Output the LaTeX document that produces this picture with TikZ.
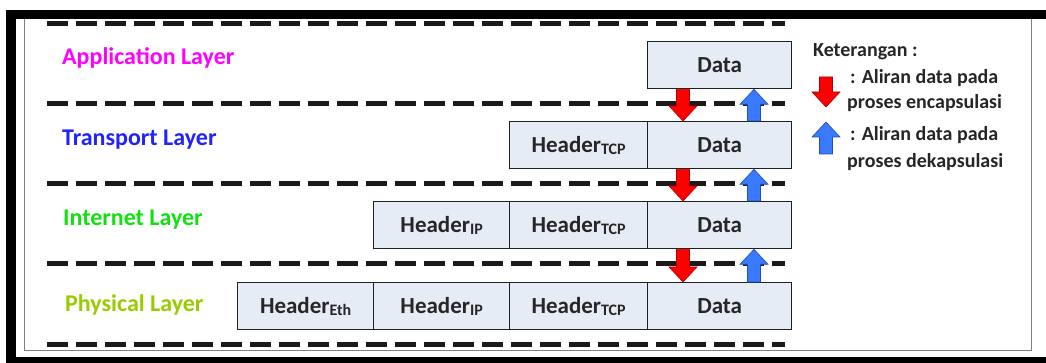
\documentclass[tikz,border=0pt]{standalone}
\usepackage{fontspec}
\setmainfont{Carlito}
\usetikzlibrary{calc}

\definecolor{cellfill}{HTML}{E6ECF6}
\definecolor{cellline}{HTML}{202020}
\definecolor{celltext}{HTML}{262626}
\definecolor{appcol}{HTML}{FF00FF}
\definecolor{trancol}{HTML}{2222FF}
\definecolor{netcol}{HTML}{11E011}
\definecolor{phycol}{HTML}{99CC00}
\definecolor{encfill}{HTML}{FF0000}
\definecolor{encline}{HTML}{B00000}
\definecolor{decfill}{HTML}{3A7AFF}
\definecolor{decline}{HTML}{1E4DB5}
\definecolor{sepcol}{HTML}{1A1A1A}

% block arrow pointing down from #2 to #3
\newcommand\blockdown[3]{%
  \draw[#1] let \p1=(#2), \p2=(#3) in
    (\x1-6.5pt,\y1) -- (\x1+6.5pt,\y1) -- (\x1+6.5pt,\y2+15pt) --
    (\x1+14pt,\y2+15pt) -- (\x1,\y2) -- (\x1-14pt,\y2+15pt) --
    (\x1-6.5pt,\y2+15pt) -- cycle;}
% block arrow pointing up from #2 to #3
\newcommand\blockup[3]{%
  \draw[#1] let \p1=(#2), \p2=(#3) in
    (\x1-6.5pt,\y1) -- (\x1+6.5pt,\y1) -- (\x1+6.5pt,\y2-15pt) --
    (\x1+14pt,\y2-15pt) -- (\x1,\y2) -- (\x1-14pt,\y2-15pt) --
    (\x1-6.5pt,\y2-15pt) -- cycle;}
\newcommand\hsub[1]{\raisebox{-2pt}{\fontsize{16}{17}\selectfont #1}}

\begin{document}
\begin{tikzpicture}[x=1pt,y=-1pt,
  cell/.style={draw=cellline, fill=cellfill, line width=1.3pt,
    minimum height=47pt, inner sep=0pt, anchor=north west,
    font=\fontsize{23}{25}\selectfont\bfseries, text=celltext},
  layername/.style={anchor=base west, inner sep=0pt,
    font=\fontsize{24}{26}\selectfont\bfseries},
  legendtext/.style={anchor=base west, inner sep=0pt,
    font=\fontsize{20}{22}\selectfont\bfseries, text=celltext},
  separator/.style={draw=sepcol, line width=5pt, dash pattern=on 21pt off 8pt},
  enc/.style={fill=encfill, draw=encline, line width=0.6pt},
  dec/.style={fill=decfill, draw=decline, line width=0.6pt}]
\useasboundingbox (0,0) rectangle (1046,363);

% frame
\fill[black] (6,10) rectangle (1046,363);
\fill[white] (16,19) rectangle (1046,357);
\draw[gray, line width=1pt] (24,19) -- (24,350) -- (1031,350) -- (1031,19);

% layer separators
\foreach \yy in {24,104,184,264,344}
  \draw[separator] (47,\yy) -- (785,\yy);

% layer names
\node[layername, text=appcol]  (lapp) at (62,65)  {Application Layer};
\node[layername, text=trancol] (ltra) at (62,146) {Transport Layer};
\node[layername, text=netcol]  (lnet) at (63,226) {Internet Layer};
\node[layername, text=phycol]  (lphy) at (65,311) {Physical Layer};

% application layer
\node[cell, minimum width=144pt] (d1) at (647,41) {Data};
% transport layer
\node[cell, minimum width=138pt] (t2) at (509,121) {Header\hsub{TCP}};
\node[cell, minimum width=144pt] (d2) at (647,121) {Data};
% internet layer
\node[cell, minimum width=136pt] (i3) at (373,201) {Header\hsub{IP}};
\node[cell, minimum width=138pt] (t3) at (509,201) {Header\hsub{TCP}};
\node[cell, minimum width=144pt] (d3) at (647,201) {Data};
% physical layer
\node[cell, minimum width=136pt] (e4) at (237,282) {Header\hsub{Eth}};
\node[cell, minimum width=136pt] (i4) at (373,282) {Header\hsub{IP}};
\node[cell, minimum width=138pt] (t4) at (509,282) {Header\hsub{TCP}};
\node[cell, minimum width=144pt] (d4) at (647,282) {Data};

% flow arrows between layers
\coordinate (encx) at (683,0);
\coordinate (decx) at (754,0);
\blockdown{enc}{encx |- d1.south}{encx |- d2.north}
\blockdown{enc}{encx |- d2.south}{encx |- d3.north}
\blockdown{enc}{encx |- d3.south}{encx |- d4.north}
\blockup{dec}{decx |- d2.north}{decx |- d1.south}
\blockup{dec}{decx |- d3.north}{decx |- d2.south}
\blockup{dec}{decx |- d4.north}{decx |- d3.south}

% legend
\node[legendtext] (ket) at (813,57) {Keterangan :};
\coordinate (ka1) at (826,77);
\coordinate (kb1) at (826,107);
\coordinate (ka2) at (826,154);
\coordinate (kb2) at (826,122);
\blockdown{enc}{ka1}{kb1}
\blockup{dec}{ka2}{kb2}
\node[legendtext] (enc1) at (850,84)  {: Aliran data pada};
\node[legendtext] (enc2) at (847,109) {proses encapsulasi};
\node[legendtext] (dec1) at (850,141) {: Aliran data pada};
\node[legendtext] (dec2) at (847,168) {proses dekapsulasi};
\end{tikzpicture}
\end{document}
